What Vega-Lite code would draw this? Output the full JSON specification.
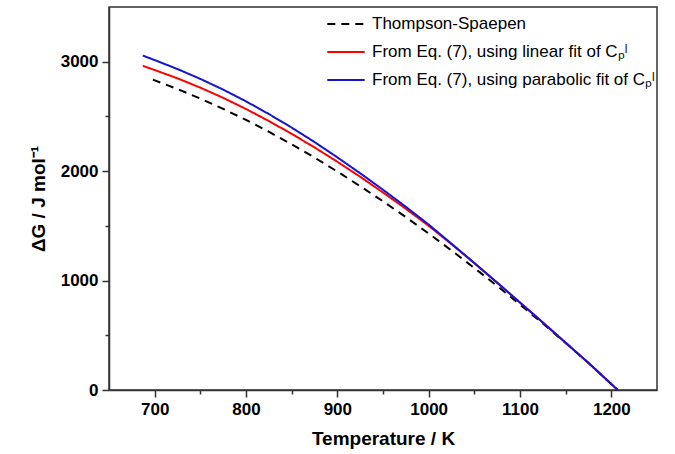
{
  "$schema": "https://vega.github.io/schema/vega-lite/v6.json",
  "width": 548,
  "height": 383,
  "autosize": {"type": "none"},
  "padding": {"left": 109, "top": 7, "right": 18, "bottom": 64},
  "background": "white",
  "config": {
    "font": "Liberation Sans",
    "view": {"stroke": "#333333", "strokeWidth": 1.5},
    "axis": {
      "domainColor": "#333333",
      "domainWidth": 1.5,
      "tickColor": "#333333",
      "tickWidth": 1.5,
      "labelFont": "Liberation Sans",
      "labelFontWeight": "bold",
      "labelFontSize": 17,
      "labelColor": "#000000",
      "titleFont": "Liberation Sans",
      "titleFontWeight": "bold",
      "titleFontSize": 19,
      "titleColor": "#000000",
      "grid": false
    }
  },
  "data": {
    "values": [
      {"T": 698, "G": 2836, "series": "Thompson-Spaepen"},
      {"T": 725, "G": 2750, "series": "Thompson-Spaepen"},
      {"T": 750, "G": 2663, "series": "Thompson-Spaepen"},
      {"T": 775, "G": 2569, "series": "Thompson-Spaepen"},
      {"T": 800, "G": 2468, "series": "Thompson-Spaepen"},
      {"T": 825, "G": 2360, "series": "Thompson-Spaepen"},
      {"T": 850, "G": 2245, "series": "Thompson-Spaepen"},
      {"T": 875, "G": 2124, "series": "Thompson-Spaepen"},
      {"T": 900, "G": 1996, "series": "Thompson-Spaepen"},
      {"T": 925, "G": 1863, "series": "Thompson-Spaepen"},
      {"T": 950, "G": 1724, "series": "Thompson-Spaepen"},
      {"T": 975, "G": 1580, "series": "Thompson-Spaepen"},
      {"T": 1000, "G": 1430, "series": "Thompson-Spaepen"},
      {"T": 1025, "G": 1275, "series": "Thompson-Spaepen"},
      {"T": 1050, "G": 1115, "series": "Thompson-Spaepen"},
      {"T": 1075, "G": 951, "series": "Thompson-Spaepen"},
      {"T": 1100, "G": 781, "series": "Thompson-Spaepen"},
      {"T": 1125, "G": 608, "series": "Thompson-Spaepen"},
      {"T": 1150, "G": 429, "series": "Thompson-Spaepen"},
      {"T": 1175, "G": 247, "series": "Thompson-Spaepen"},
      {"T": 1207, "G": 0, "series": "Thompson-Spaepen"},

      {"T": 687, "G": 2962, "series": "From Eq. (7), using linear fit of Cₚˡ"},
      {"T": 700, "G": 2924, "series": "From Eq. (7), using linear fit of Cₚˡ"},
      {"T": 725, "G": 2848, "series": "From Eq. (7), using linear fit of Cₚˡ"},
      {"T": 750, "G": 2763, "series": "From Eq. (7), using linear fit of Cₚˡ"},
      {"T": 775, "G": 2670, "series": "From Eq. (7), using linear fit of Cₚˡ"},
      {"T": 800, "G": 2568, "series": "From Eq. (7), using linear fit of Cₚˡ"},
      {"T": 825, "G": 2458, "series": "From Eq. (7), using linear fit of Cₚˡ"},
      {"T": 850, "G": 2341, "series": "From Eq. (7), using linear fit of Cₚˡ"},
      {"T": 875, "G": 2217, "series": "From Eq. (7), using linear fit of Cₚˡ"},
      {"T": 900, "G": 2086, "series": "From Eq. (7), using linear fit of Cₚˡ"},
      {"T": 925, "G": 1949, "series": "From Eq. (7), using linear fit of Cₚˡ"},
      {"T": 950, "G": 1805, "series": "From Eq. (7), using linear fit of Cₚˡ"},
      {"T": 975, "G": 1656, "series": "From Eq. (7), using linear fit of Cₚˡ"},
      {"T": 1000, "G": 1500, "series": "From Eq. (7), using linear fit of Cₚˡ"},
      {"T": 1025, "G": 1333, "series": "From Eq. (7), using linear fit of Cₚˡ"},
      {"T": 1050, "G": 1160, "series": "From Eq. (7), using linear fit of Cₚˡ"},
      {"T": 1075, "G": 981, "series": "From Eq. (7), using linear fit of Cₚˡ"},
      {"T": 1100, "G": 799, "series": "From Eq. (7), using linear fit of Cₚˡ"},
      {"T": 1125, "G": 617, "series": "From Eq. (7), using linear fit of Cₚˡ"},
      {"T": 1150, "G": 432, "series": "From Eq. (7), using linear fit of Cₚˡ"},
      {"T": 1175, "G": 247, "series": "From Eq. (7), using linear fit of Cₚˡ"},
      {"T": 1207, "G": 0, "series": "From Eq. (7), using linear fit of Cₚˡ"},

      {"T": 687, "G": 3056, "series": "From Eq. (7), using parabolic fit of Cₚˡ"},
      {"T": 700, "G": 3015, "series": "From Eq. (7), using parabolic fit of Cₚˡ"},
      {"T": 725, "G": 2933, "series": "From Eq. (7), using parabolic fit of Cₚˡ"},
      {"T": 750, "G": 2843, "series": "From Eq. (7), using parabolic fit of Cₚˡ"},
      {"T": 775, "G": 2745, "series": "From Eq. (7), using parabolic fit of Cₚˡ"},
      {"T": 800, "G": 2638, "series": "From Eq. (7), using parabolic fit of Cₚˡ"},
      {"T": 825, "G": 2522, "series": "From Eq. (7), using parabolic fit of Cₚˡ"},
      {"T": 850, "G": 2398, "series": "From Eq. (7), using parabolic fit of Cₚˡ"},
      {"T": 875, "G": 2266, "series": "From Eq. (7), using parabolic fit of Cₚˡ"},
      {"T": 900, "G": 2126, "series": "From Eq. (7), using parabolic fit of Cₚˡ"},
      {"T": 925, "G": 1981, "series": "From Eq. (7), using parabolic fit of Cₚˡ"},
      {"T": 950, "G": 1830, "series": "From Eq. (7), using parabolic fit of Cₚˡ"},
      {"T": 975, "G": 1674, "series": "From Eq. (7), using parabolic fit of Cₚˡ"},
      {"T": 1000, "G": 1512, "series": "From Eq. (7), using parabolic fit of Cₚˡ"},
      {"T": 1025, "G": 1337, "series": "From Eq. (7), using parabolic fit of Cₚˡ"},
      {"T": 1050, "G": 1160, "series": "From Eq. (7), using parabolic fit of Cₚˡ"},
      {"T": 1075, "G": 981, "series": "From Eq. (7), using parabolic fit of Cₚˡ"},
      {"T": 1100, "G": 799, "series": "From Eq. (7), using parabolic fit of Cₚˡ"},
      {"T": 1125, "G": 617, "series": "From Eq. (7), using parabolic fit of Cₚˡ"},
      {"T": 1150, "G": 432, "series": "From Eq. (7), using parabolic fit of Cₚˡ"},
      {"T": 1175, "G": 247, "series": "From Eq. (7), using parabolic fit of Cₚˡ"},
      {"T": 1207, "G": 0, "series": "From Eq. (7), using parabolic fit of Cₚˡ"}
    ]
  },
  "mark": {"type": "line", "strokeWidth": 2, "clip": true},
  "encoding": {
    "x": {
      "field": "T",
      "type": "quantitative",
      "scale": {"domain": [650, 1250], "nice": false, "zero": false},
      "axis": {
        "title": "Temperature / K",
        "values": [700, 750, 800, 850, 900, 950, 1000, 1050, 1100, 1150, 1200],
        "format": "d",
        "labelExpr": "datum.value % 100 === 0 ? datum.label : ''",
        "tickSize": {"condition": {"test": "datum.value % 100 === 0", "value": 7}, "value": 4},
        "labelPadding": 4,
        "titlePadding": 12,
        "labelFlush": false,
        "labelOverlap": false
      }
    },
    "y": {
      "field": "G",
      "type": "quantitative",
      "scale": {"domain": [0, 3500], "nice": false},
      "axis": {
        "title": "ΔG / J mol⁻¹",
        "values": [0, 500, 1000, 1500, 2000, 2500, 3000],
        "format": "d",
        "labelExpr": "datum.value % 1000 === 0 ? datum.label : ''",
        "tickSize": {"condition": {"test": "datum.value % 1000 === 0", "value": 7}, "value": 4},
        "labelPadding": 4,
        "titlePadding": 12,
        "labelFlush": false,
        "labelOverlap": false
      }
    },
    "color": {
      "field": "series",
      "type": "nominal",
      "sort": null,
      "scale": {
        "domain": ["Thompson-Spaepen", "From Eq. (7), using linear fit of Cₚˡ", "From Eq. (7), using parabolic fit of Cₚˡ"],
        "range": ["#000000", "#ff0000", "#1414d2"]
      },
      "legend": {
        "title": null,
        "orient": "none",
        "legendX": 217,
        "legendY": -3,
        "symbolType": "stroke",
        "symbolSize": 1400,
        "symbolStrokeWidth": 2,
        "labelFont": "Liberation Sans",
        "labelFontSize": 17,
        "labelColor": "#000000",
        "labelOffset": 6,
        "labelLimit": 400,
        "rowPadding": 0,
        "padding": 0
      }
    },
    "strokeDash": {
      "field": "series",
      "type": "nominal",
      "sort": null,
      "scale": {
        "domain": ["Thompson-Spaepen", "From Eq. (7), using linear fit of Cₚˡ", "From Eq. (7), using parabolic fit of Cₚˡ"],
        "range": [[8, 6], [1, 0], [1, 0]]
      },
      "legend": {
        "title": null,
        "orient": "none",
        "legendX": 217,
        "legendY": -3,
        "symbolType": "stroke",
        "symbolSize": 1400,
        "symbolStrokeWidth": 2,
        "labelFont": "Liberation Sans",
        "labelFontSize": 17,
        "labelColor": "#000000",
        "labelOffset": 6,
        "labelLimit": 400,
        "rowPadding": 0,
        "padding": 0
      }
    }
  }
}
